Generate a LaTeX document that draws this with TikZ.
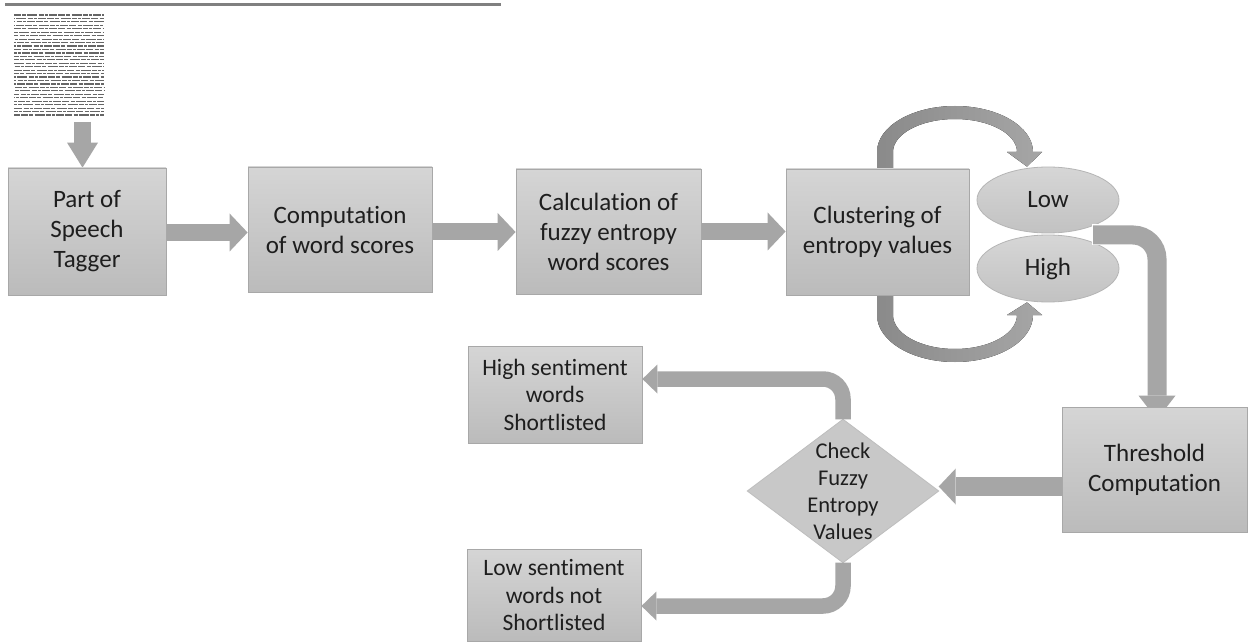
\documentclass[tikz,border=0pt]{standalone}
\usepackage{fontspec}
\setmainfont{Carlito}[Ligatures=NoCommon]
\usetikzlibrary{arrows.meta,shapes.geometric,calc}
\definecolor{arr}{HTML}{A6A6A6}
\definecolor{boxtop}{HTML}{D5D5D5}
\definecolor{boxbot}{HTML}{BBBBBB}
\definecolor{boxline}{HTML}{A8A8A8}
\definecolor{elltop}{HTML}{D6D6D6}
\definecolor{ellbot}{HTML}{C2C2C2}
\definecolor{ellline}{HTML}{B5B5B5}
\definecolor{diafill}{HTML}{C8C8C8}
\definecolor{dialine}{HTML}{BDBDBD}
\definecolor{txt}{HTML}{1E1E1E}
\definecolor{bar}{HTML}{808080}
\definecolor{curvedark}{HTML}{8A8A8A}
\definecolor{docgray}{HTML}{666666}
\pgfdeclarelayer{back}
\pgfdeclarelayer{front}
\pgfsetlayers{back,main,front}
\begin{document}
\begin{tikzpicture}[x=1pt,y=-1pt,
  procbox/.style={rectangle, draw=boxline, line width=0.8pt, top color=boxtop, bottom color=boxbot,
    align=center, text=txt, inner sep=0pt, font=\fontsize{25}{30}\selectfont},
  smallbox/.style={procbox, font=\fontsize{23.5}{27.5}\selectfont},
  cluster/.style={ellipse, draw=ellline, line width=0.8pt, top color=elltop, bottom color=ellbot,
    text=txt, inner sep=0pt, font=\fontsize{25}{30}\selectfont},
  blockarrow/.style n args={3}{draw=arr, line width=#1, -{Triangle[length=#2,width=#3,line width=0pt]}},
]
\begin{pgfonlayer}{back}
\fill[white] (0,0) rectangle (1250,644);
\end{pgfonlayer}
\useasboundingbox (0,0) rectangle (1250,644);

% top rule
\fill[bar] (5,3) rectangle (501,6);

% scanned text page
\node[rectangle, inner sep=0pt, minimum width=92pt, minimum height=105pt] (doc) at (59,65.5) {};
\foreach \i in {0,...,29}{
  \pgfmathsetmacro\ph{mod(\i*11,47)}
  \draw[line width=1.2pt, docgray,
    dash pattern=on 7pt off 1.2pt on 4pt off 1.2pt on 10pt off 1.2pt on 5pt off 1.2pt on 3pt off 1.2pt on 8pt off 1.2pt,
    dash phase=\ph pt] (14,{15+\i*3.45}) -- (104,{15+\i*3.45});
}

% process boxes
\node[procbox, minimum width=158pt, minimum height=127pt] (b1) at (87,231.5) {Part of\\Speech\\Tagger};
\node[procbox, minimum width=184pt, minimum height=125pt] (b2) at (340,229.5) {Computation\\of word scores};
\node[procbox, minimum width=185pt, minimum height=125pt] (b3) at (608.5,231.5) {Calculation of\\fuzzy entropy\\word scores};
\node[procbox, minimum width=183pt, minimum height=126pt] (b4) at (877.5,232) {Clustering of\\entropy values};
\node[cluster, minimum width=142pt, minimum height=66pt] (low) at (1048,200) {Low};
\node[cluster, minimum width=142pt, minimum height=67pt] (high) at (1048,268.5) {High};

\begin{pgfonlayer}{front}
\node[procbox, minimum width=185pt, minimum height=125pt] (thr) at (1154.5,469.5) {Threshold\\Computation};
\end{pgfonlayer}

\node[smallbox, minimum width=174pt, minimum height=97pt] (hi) at (555,394.5) {High sentiment\\words\\Shortlisted};
\node[smallbox, minimum width=174pt, minimum height=92pt] (lo) at (554,595) {Low sentiment\\words not\\Shortlisted};

% decision diamond
\node[rectangle, inner sep=0pt, minimum width=191pt, minimum height=143pt] (dia) at (843,491) {};
\begin{pgfonlayer}{back}
\fill[diafill] (dia.north) -- (dia.east) -- (dia.south) -- (dia.west) -- cycle;
\draw[dialine, line width=0.8pt] (dia.north) -- (dia.east) -- (dia.south) -- (dia.west) -- cycle;
\end{pgfonlayer}
\node[align=center, text=txt, inner sep=0pt, font=\fontsize{22.5}{27}\selectfont] (diatext) at (dia.center) {Check\\Fuzzy\\Entropy\\Values};

% connectors
\begin{pgfonlayer}{back}
\coordinate (dstart) at (82.5,122);
\draw[blockarrow={17pt}{25pt}{31pt}] (dstart) -- (dstart |- b1.north);
\draw[blockarrow={17pt}{18pt}{38pt}] ($(b1.east)+(0,1)$) coordinate (a1) -- (a1 -| b2.west);
\draw[blockarrow={17pt}{18pt}{38pt}] ($(b2.east)+(0,2.5)$) coordinate (a2) -- (a2 -| b3.west);
\draw[blockarrow={17pt}{18pt}{38pt}] (b3.east) -- (b3.east -| b4.west);

% curved arrows from clustering box to Low / High
\fill[left color=curvedark, right color=arr]
  (b4.north -| 877,0) -- (877,152) arc[start angle=180,end angle=0,x radius=78pt,y radius=46pt]
  -- (1042,152) -- (low.north -| 1027,0) -- (1007,152) -- (1017,152)
  arc[start angle=0,end angle=180,x radius=62pt,y radius=33pt] -- (b4.north -| 893,0) -- cycle;
\fill[left color=curvedark, right color=arr]
  (b4.south -| 877,0) -- (877,315) arc[start angle=180,end angle=360,x radius=78pt,y radius=47pt]
  -- (1042,315) -- (high.south -| 1027,0) -- (1007,315) -- (1017,315)
  arc[start angle=360,end angle=180,x radius=62pt,y radius=34pt] -- (b4.south -| 893,0) -- cycle;

% decision branches
\draw[blockarrow={15.5pt}{15pt}{29pt}, rounded corners=20pt]
  (dia.north) -- ($(dia.north |- hi.east)+(0,-15.5)$) coordinate (h1) -- (h1 -| hi.east);
\draw[blockarrow={15.5pt}{15pt}{29pt}, rounded corners=20pt]
  (dia.south) -- ($(dia.south |- lo.east)+(0,11)$) coordinate (l1) -- (l1 -| lo.east);

% threshold to decision
\draw[blockarrow={19pt}{17pt}{36pt}] ($(thr.west)+(0,17)$) coordinate (t1) -- (t1 -| dia.east);
\end{pgfonlayer}

% clusters to threshold
\coordinate (ts) at (1093,235);
\coordinate (tc) at (1157,235);
\draw[white, line width=21pt] ($(ts)+(-1,0)$) -- (1125,235);
\draw[blockarrow={19pt}{24pt}{37pt}, rounded corners=24pt]
  (ts) -- (tc) -- ($(tc |- thr.north)+(0,13)$);
\end{tikzpicture}
\end{document}
